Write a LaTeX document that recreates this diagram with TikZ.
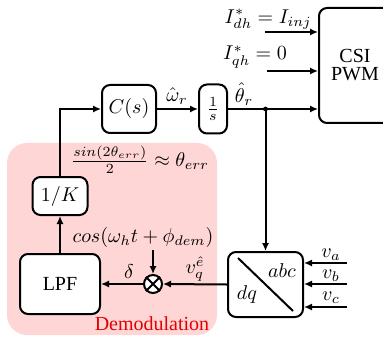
\documentclass[tikz,border=0pt]{standalone}
\usepackage[no-math]{fontspec}
\setmainfont{Liberation Serif}
\usetikzlibrary{arrows.meta}
\definecolor{demodpink}{RGB}{255,214,214}
\definecolor{demodred}{RGB}{228,0,0}

\begin{document}
\begin{tikzpicture}[x=0.5pt, y=-0.5pt,
  blk/.style={draw, line width=1pt, rounded corners=4pt, fill=white, align=center, inner sep=1pt},
  sig/.style={-{Latex[length=4pt,width=3.6pt]}, line width=1pt},
  wire/.style={line width=1pt},
  lbl/.style={inner sep=0pt}
]
\useasboundingbox (0,0) rectangle (383,341);

% demodulation area
\fill[demodpink, rounded corners=10pt] (7,143) rectangle (217,335);
\node[lbl, text=demodred] (demodlbl) at (152,324) {Demodulation};

% blocks
\node[blk, minimum width=36pt, minimum height=57.5pt] (csi) at (355,65.5) {CSI\\[-3pt]PWM};
\node[blk, minimum width=27pt, minimum height=24pt] (ctrl) at (129,109) {$C(s)$};
\node[blk, minimum width=14pt, minimum height=24.5pt] (integ) at (213,109) {$\frac{1}{s}$};
\node[blk, minimum width=27.5pt, minimum height=19pt] (gaink) at (60,196) {$1/K$};
\node[blk, minimum width=40pt, minimum height=30pt] (lpf) at (60,284) {LPF};
\node[draw, line width=1pt, circle, fill=white, minimum size=9pt, inner sep=0pt] (mult) at (153,284) {};
\draw[wire] (mult.north west) -- (mult.south east) (mult.north east) -- (mult.south west);
\node[blk, minimum width=37.5pt, minimum height=32.5pt] (park) at (265.5,284.5) {};
\draw[wire] (238,258) -- (293,311);
\node[lbl] (abc) at (282,271) {$abc$};
\node[lbl] (dq) at (247,294) {$dq$};

% references into the CSI
\coordinate (idin) at (265,32);
\coordinate (iqin) at (267,71);
\draw[sig] (idin) -- (idin -| csi.west);
\draw[sig] (iqin) -- (iqin -| csi.west);
\node[lbl, anchor=east] (idlbl) at (312,19) {$I^*_{dh}=I_{inj}$};
\node[lbl] (iqlbl) at (255,57) {$I^*_{qh}=0$};

% observer loop
\draw[sig] (ctrl) -- (integ);
\node[lbl] (omglbl) at (177,96) {$\hat{\omega}_r$};
\draw[sig] (integ.east) -- (integ.east -| csi.west);
\node[lbl] (thlbl) at (244,94) {$\hat{\theta}_r$};
\coordinate (tap) at (integ.east -| park.north);
\fill (tap) circle (1.2pt);
\draw[sig] (tap) -- (park.north);
\draw[sig] (park.west) -- (mult.east);
\node[lbl] (vqlbl) at (195,269) {$v_q^{\hat{e}}$};
\draw[sig] (mult.west) -- (lpf.east);
\node[lbl] (deltalbl) at (129,272) {$\delta$};
\node[lbl] (coslbl) at (143,237) {$cos(\omega_h t+\phi_{dem})$};
\draw[sig] ([yshift=-1.5pt]coslbl.south -| mult.north) -- (mult.north);
\draw[sig] (lpf.north) -- (gaink.south);
\node[lbl] (sinlbl) at (140,160) {$\frac{sin(2\theta_{err})}{2}\approx\theta_{err}$};
\draw[sig] (gaink.north) |- (ctrl.west);

% measured voltages
\coordinate (vain) at (347,263);
\coordinate (vbin) at (347,284);
\coordinate (vcin) at (347,307);
\draw[sig] (vain) -- (vain -| park.east);
\draw[sig] (vbin) -- (vbin -| park.east);
\draw[sig] (vcin) -- (vcin -| park.east);
\node[lbl] (valbl) at (331,255) {$v_a$};
\node[lbl] (vblbl) at (331,276) {$v_b$};
\node[lbl] (vclbl) at (331,298) {$v_c$};
\end{tikzpicture}
\end{document}
